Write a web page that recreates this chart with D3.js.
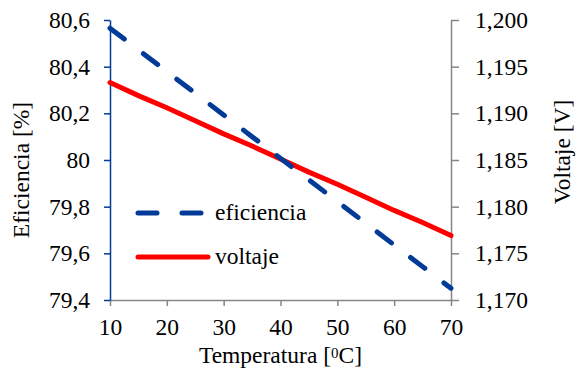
<!DOCTYPE html>
<html>
<head>
<meta charset="utf-8">
<script src="https://cdn.jsdelivr.net/npm/d3@7"></script>
</head>
<body style="margin:0">
<svg id="chart" width="578" height="376"></svg>
<script>
const temps = [10, 15, 20, 25, 30, 35, 40, 45, 50, 55, 60, 65, 70]
const eficiencia = [80.565, 80.472, 80.379, 80.286, 80.193, 80.10, 80.007, 79.915, 79.822, 79.729, 79.636, 79.543, 79.45]
const voltaje = [1.1933, 1.1919, 1.1906, 1.1892, 1.1878, 1.1865, 1.1851, 1.1837, 1.1824, 1.181, 1.1796, 1.1783, 1.1769]

const xTicks = [10, 20, 30, 40, 50, 60, 70]
const yLeftTicks = [79.4, 79.6, 79.8, 80, 80.2, 80.4, 80.6]
const yRightTicks = [1.170, 1.175, 1.180, 1.185, 1.190, 1.195, 1.200]
const seriesNames = ['eficiencia', 'voltaje']

const blue = '#023a98',
    red = '#ff0000',
    gray = '#868686',
    fontSize = 23.5

const plot = { left: 110, right: 451, top: 20, bottom: 300 }

const svg = d3.select('#chart')

const x = d3.scaleLinear().domain([10, 70]).range([plot.left, plot.right])
const yL = d3.scaleLinear().domain([79.4, 80.6]).range([plot.bottom, plot.top])
const yR = d3.scaleLinear().domain([1.170, 1.200]).range([plot.bottom, plot.top])

const comma = (f) => (d) => f(d).replace('.', ',')

// serif text like the original
function label(sel) {
    return sel.style('font-family', '"Times New Roman"').attr('font-size', fontSize).attr('fill', '#000')
}

// bottom axis
const gx = svg.append('g')
    .attr('transform', `translate(0, ${plot.bottom})`)
    .call(d3.axisBottom(x).tickValues(xTicks).tickSizeInner(6).tickSizeOuter(0).tickPadding(12))
gx.selectAll('line, path').attr('stroke', gray).attr('stroke-width', 1.5)

// right axis
const gr = svg.append('g')
    .attr('transform', `translate(${plot.right}, 0)`)
    .call(d3.axisRight(yR).tickValues(yRightTicks).tickFormat(comma(d3.format('.3f'))).tickSizeInner(8).tickSizeOuter(0).tickPadding(16))
gr.selectAll('line, path').attr('stroke', gray).attr('stroke-width', 1.5)

// left axis
const gl = svg.append('g')
    .attr('transform', `translate(${plot.left}, 0)`)
    .call(d3.axisLeft(yL).tickValues(yLeftTicks).tickFormat(comma((d) => d3.format('.1f')(d).replace(/\.0$/, ''))).tickSizeInner(6).tickSizeOuter(0).tickPadding(14))
gl.selectAll('line, path').attr('stroke', blue).attr('stroke-width', 1.5)

svg.selectAll('g').attr('font-family', null).attr('font-size', null)
label(svg.selectAll('.tick text'))

// lines
const effLine = d3.line().x((d, i) => x(temps[i])).y((d) => yL(d))
const voltLine = d3.line().x((d, i) => x(temps[i])).y((d) => yR(d))

svg.append('path')
    .datum(voltaje)
    .attr('d', voltLine)
    .attr('fill', 'none')
    .attr('stroke', red)
    .attr('stroke-width', 5)
    .attr('stroke-linecap', 'round')

svg.append('path')
    .datum(eficiencia)
    .attr('d', effLine)
    .attr('fill', 'none')
    .attr('stroke', blue)
    .attr('stroke-width', 5)
    .attr('stroke-linecap', 'round')
    .attr('stroke-dasharray', '18,24')

// legend
const legend = svg.append('g').attr('transform', 'translate(138, 213)')
const items = legend.selectAll('g')
    .data(seriesNames)
    .enter().append('g')
    .attr('transform', (d, i) => `translate(0, ${i * 44})`)

items.append('line')
    .attr('x1', 0).attr('x2', 70)
    .attr('stroke', (d, i) => i == 0 ? blue : red)
    .attr('stroke-width', 5)
    .attr('stroke-linecap', 'round')
    .attr('stroke-dasharray', (d, i) => i == 0 ? '19,25' : null)

label(items.append('text'))
    .attr('x', 77)
    .attr('y', 7)
    .text((d) => d)

// axis titles
label(svg.append('text'))
    .attr('transform', `translate(29, 170) rotate(-90)`)
    .attr('text-anchor', 'middle')
    .text('Eficiencia [%]')

label(svg.append('text'))
    .attr('transform', `translate(570, 152) rotate(-90)`)
    .attr('text-anchor', 'middle')
    .text('Voltaje [V]')

const xt = label(svg.append('text'))
    .attr('x', (plot.left + plot.right) / 2)
    .attr('y', 363)
    .attr('text-anchor', 'middle')
xt.append('tspan').text('Temperatura [')
xt.append('tspan').attr('baseline-shift', '35%').attr('font-size', 15).text('0')
xt.append('tspan').text('C]')
</script>
</body>
</html>
